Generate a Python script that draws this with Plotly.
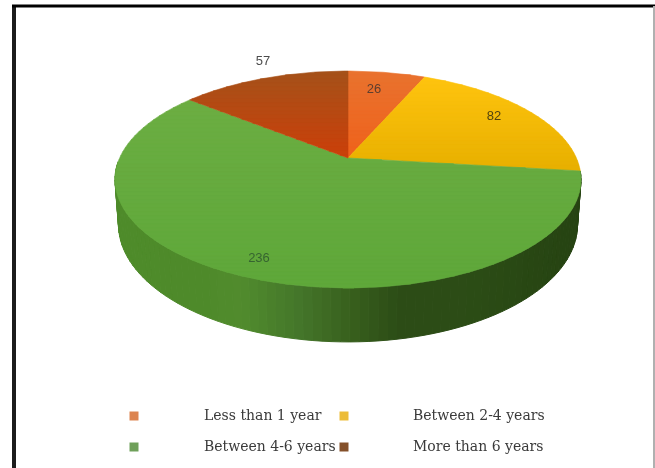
import numpy as np
import plotly.graph_objects as go

# ---- data ----
categories = ["Less than 1 year", "Between 2-4 years", "Between 4-6 years", "More than 6 years"]
values = [26, 82, 236, 57]
value_labels = ["26", "82", "236", "57"]
label_x = [374, 494, 259, 263]
label_y = [90, 117, 259, 62]
label_colors = ["#5e3e2e", "#524410", "#366430", "#4c4c4c"]
top_gradients = [
    ("#e9732f", "#f0621c"),
    ("#ffc40f", "#e8b000"),
    ("#6cae43", "#5fa83a"),
    ("#a5521a", "#cc400a"),
]
legend_colors = ["#dc8450", "#ecbc38", "#6fa05a", "#84502a"]
legend_marker_x = [134, 344, 134, 344]
legend_text_x = [204, 413, 204, 413]
legend_y = [416, 416, 447, 447]
side_stops_x = [115, 200, 240, 300, 348, 400, 470, 581]
side_stops_color = ["#4f8c2b", "#4e8a2a", "#528c2e", "#44762a", "#39611e", "#2c4c16", "#2c4d16", "#264312"]

# ---- projection of the tilted disc ----
CX, CY, RX, RY, P, DEPTH, SHRINK = 348.0, 158.0, 228.4, 104.2, 0.198, 43.3, 0.985


def project(theta_deg):
    t = np.radians(theta_deg)
    u, v = np.sin(t), np.cos(t)
    s = 1 / (1 + P * v)
    return CX + RX * u * s, CY - RY * v * s, s


def hex2rgb(h):
    return np.array([int(h[i:i + 2], 16) for i in (1, 3, 5)], float)


def mix(a, b, f):
    c = hex2rgb(a) * (1 - f) + hex2rgb(b) * f
    return "rgb(%d,%d,%d)" % tuple(c)


def clip(poly, y0, y1):
    def half(pts, keep, cross):
        out = []
        for i in range(len(pts)):
            p, q = pts[i], pts[(i + 1) % len(pts)]
            kp, kq = keep(p), keep(q)
            if kp:
                out.append(p)
            if kp != kq:
                f = (cross - p[1]) / (q[1] - p[1])
                out.append((p[0] + f * (q[0] - p[0]), cross))
        return out
    pts = half(poly, lambda p: p[1] >= y0, y0)
    if pts:
        pts = half(pts, lambda p: p[1] <= y1, y1)
    return pts


fig = go.Figure()


def add_poly(xs, ys, color, width=0.6):
    fig.add_trace(go.Scatter(x=xs, y=ys, mode="lines", fill="toself", fillcolor=color,
                             line=dict(color=color, width=width), hoverinfo="skip", showlegend=False))


total = sum(values)
edges = np.concatenate([[0], np.cumsum(values)]) / total * 360

# side wall of the disc, painted first and covered by the top face
side_angles = np.linspace(97, 268, 90)
for a, b in zip(side_angles[:-1], side_angles[1:]):
    xa, ya, sa = project(a)
    xb, yb, sb = project(b)
    bxa, bxb = CX + (xa - CX) * SHRINK, CX + (xb - CX) * SHRINK
    mid = (xa + xb) / 2
    i = min(np.searchsorted(side_stops_x, mid), len(side_stops_x) - 1)
    i = max(i, 1)
    f = (mid - side_stops_x[i - 1]) / (side_stops_x[i] - side_stops_x[i - 1])
    add_poly([xa, xb, bxb, bxa, xa], [ya, yb, yb + DEPTH * sb, ya + DEPTH * sa, ya],
             mix(side_stops_color[i - 1], side_stops_color[i], float(np.clip(f, 0, 1))), width=1.0)

# top face: one wedge per value, shaded in thin horizontal bands
for k in range(len(values)):
    th = np.linspace(edges[k], edges[k + 1], 120)
    rim = [project(t)[:2] for t in th]
    poly = [(CX, CY)] + rim
    ys = [p[1] for p in poly]
    lo, hi = min(ys), max(ys)
    bands = np.arange(lo, hi + 4, 4.0)
    c0, c1 = top_gradients[k]
    for y0, y1 in zip(bands[:-1], bands[1:]):
        piece = clip(poly, y0, y1)
        if len(piece) < 3:
            continue
        col = mix(c0, c1, float(np.clip(((y0 + y1) / 2 - lo) / (hi - lo), 0, 1)))
        add_poly([p[0] for p in piece] + [piece[0][0]], [p[1] for p in piece] + [piece[0][1]], col)

# legend
fig.add_trace(go.Scatter(x=legend_marker_x, y=legend_y, mode="markers",
                         marker=dict(symbol="square", size=9, color=legend_colors),
                         hoverinfo="skip", showlegend=False))
fig.add_trace(go.Scatter(x=legend_text_x, y=legend_y, mode="text", text=categories, textposition="middle right",
                         textfont=dict(family="DejaVu Serif", size=14, color="#3a3a3a"),
                         hoverinfo="skip", showlegend=False))
# data labels
fig.add_trace(go.Scatter(x=label_x, y=label_y, mode="text", text=value_labels, textposition="middle center",
                         textfont=dict(family="Liberation Sans", size=13, color=label_colors),
                         hoverinfo="skip", showlegend=False))

# frame
frame = [
    dict(type="line", x0=14, x1=14, y0=5, y1=468, line=dict(color="#1c1c1c", width=4)),
    dict(type="line", x0=12, x1=655, y0=6, y1=6, line=dict(color="#000000", width=3)),
    dict(type="line", x0=654, x1=654, y0=6, y1=468, line=dict(color="#b0b0b0", width=2)),
]

fig.update_layout(
    width=655, height=468, margin=dict(l=0, r=0, t=0, b=0, pad=0),
    paper_bgcolor="white", plot_bgcolor="white", showlegend=False, shapes=frame,
    xaxis=dict(range=[0, 655], visible=False, fixedrange=True),
    yaxis=dict(range=[468, 0], visible=False, fixedrange=True),
)
fig.write_html("out.html", config=dict(displayModeBar=False),
               post_script="document.body.style.margin='0';"
                           "document.querySelector('.plotly-graph-div').style.filter='blur(0.7px)';")
